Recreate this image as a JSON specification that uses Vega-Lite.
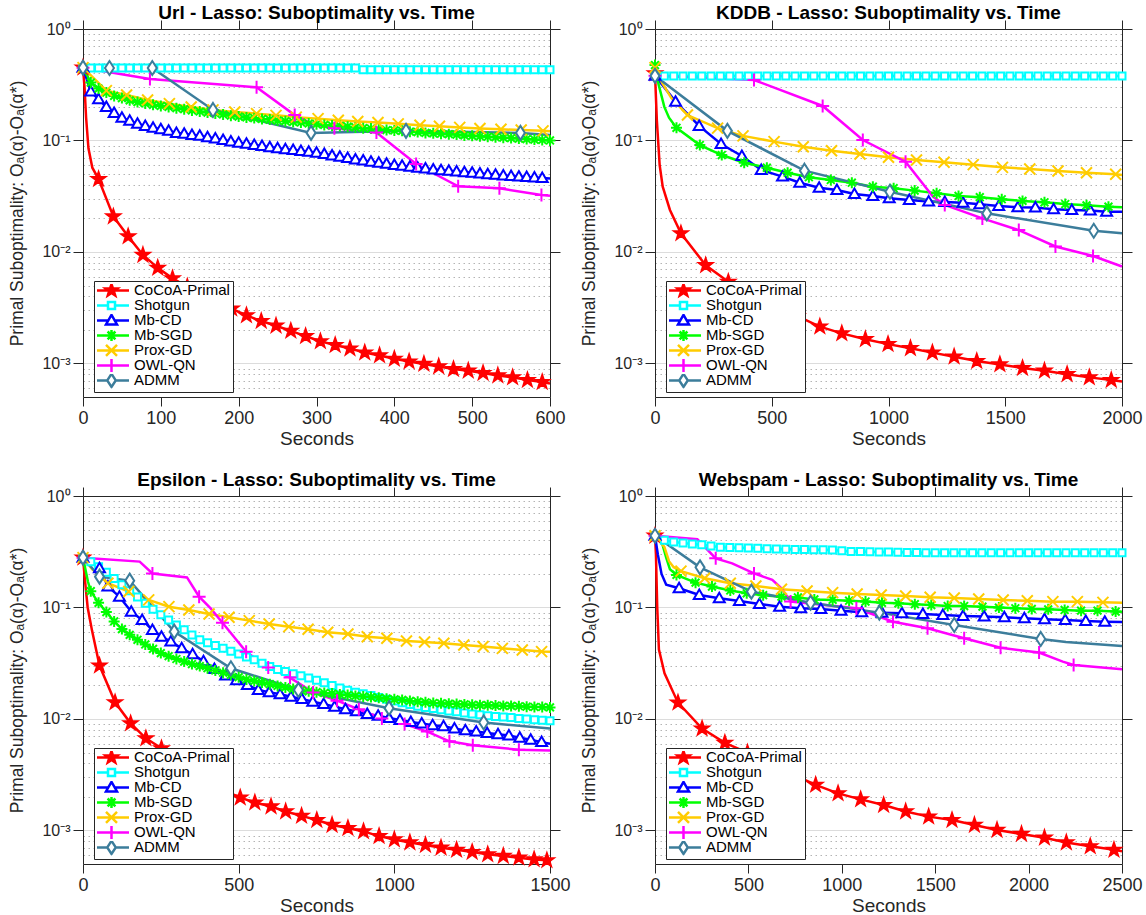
{
"$schema": "https://vega.github.io/schema/vega-lite/v6.json",
"padding": {"left": 8, "top": 4, "right": 5, "bottom": 3},
"background": "white",
"config": {
  "view": {"stroke": null},
  "font": "Liberation Sans",
  "axis": {"labelFont": "Liberation Sans", "titleFont": "Liberation Sans", "labelColor": "#262626", "titleColor": "#262626", "tickColor": "#262626", "domainColor": "#262626", "tickSize": 10, "titleFontWeight": "normal"},
  "title": {"font": "Liberation Sans", "fontSize": 19, "fontWeight": "bold", "color": "#000000", "baseline": "alphabetic", "offset": -3.5},
  "legend": {"padding": 3, "rowPadding": -1.8, "clipHeight": 12.8, "symbolOffset": 7, "labelOffset": 15, "labelFontSize": 15, "labelFont": "Liberation Sans", "labelColor": "#000000", "fillColor": "#ffffff", "strokeColor": "#262626", "symbolSize": 100, "symbolStrokeWidth": 2.5, "symbolOpacity": 1, "cornerRadius": 0}
},
"datasets": {
"url": [
{"s":"CoCoA-Primal","t":0,"v":0.45},{"s":"CoCoA-Primal","t":2,"v":0.3,"k":1},{"s":"CoCoA-Primal","t":4,"v":0.16,"k":1},{"s":"CoCoA-Primal","t":7,"v":0.085,"k":1},{"s":"CoCoA-Primal","t":12,"v":0.057,"k":1},
{"s":"CoCoA-Primal","t":20,"v":0.045},{"s":"CoCoA-Primal","t":39,"v":0.0208},{"s":"CoCoA-Primal","t":58,"v":0.0138},{"s":"CoCoA-Primal","t":77,"v":0.0094},{"s":"CoCoA-Primal","t":96,"v":0.0072},{"s":"CoCoA-Primal","t":115,"v":0.0058},{"s":"CoCoA-Primal","t":134,"v":0.0049},{"s":"CoCoA-Primal","t":153,"v":0.0042},{"s":"CoCoA-Primal","t":172,"v":0.0035},{"s":"CoCoA-Primal","t":191,"v":0.0031},{"s":"CoCoA-Primal","t":210,"v":0.0027},{"s":"CoCoA-Primal","t":229,"v":0.0024},{"s":"CoCoA-Primal","t":248,"v":0.00218},{"s":"CoCoA-Primal","t":267,"v":0.00196},{"s":"CoCoA-Primal","t":286,"v":0.00176},{"s":"CoCoA-Primal","t":305,"v":0.00158},{"s":"CoCoA-Primal","t":324,"v":0.00146},{"s":"CoCoA-Primal","t":343,"v":0.00136},{"s":"CoCoA-Primal","t":362,"v":0.00125},{"s":"CoCoA-Primal","t":381,"v":0.00118},{"s":"CoCoA-Primal","t":400,"v":0.0011},{"s":"CoCoA-Primal","t":419,"v":0.00104},{"s":"CoCoA-Primal","t":438,"v":0.00099},{"s":"CoCoA-Primal","t":457,"v":0.00094},{"s":"CoCoA-Primal","t":476,"v":0.00089},{"s":"CoCoA-Primal","t":495,"v":0.00086},{"s":"CoCoA-Primal","t":514,"v":0.00082},{"s":"CoCoA-Primal","t":533,"v":0.00078},{"s":"CoCoA-Primal","t":552,"v":0.00075},{"s":"CoCoA-Primal","t":571,"v":0.00071},{"s":"CoCoA-Primal","t":590,"v":0.00068},{"s":"CoCoA-Primal","t":600,"v":0.00066,"k":1},
{"s":"Shotgun","t":0,"v":0.45},{"s":"Shotgun","t":10,"v":0.447},{"s":"Shotgun","t":20,"v":0.447},{"s":"Shotgun","t":30,"v":0.447},{"s":"Shotgun","t":40,"v":0.447},{"s":"Shotgun","t":50,"v":0.447},{"s":"Shotgun","t":60,"v":0.447},{"s":"Shotgun","t":70,"v":0.447},{"s":"Shotgun","t":80,"v":0.447},{"s":"Shotgun","t":90,"v":0.447},{"s":"Shotgun","t":100,"v":0.447},{"s":"Shotgun","t":110,"v":0.447},{"s":"Shotgun","t":120,"v":0.447},{"s":"Shotgun","t":130,"v":0.447},{"s":"Shotgun","t":140,"v":0.447},{"s":"Shotgun","t":150,"v":0.447},{"s":"Shotgun","t":160,"v":0.447},{"s":"Shotgun","t":170,"v":0.447},{"s":"Shotgun","t":180,"v":0.447},{"s":"Shotgun","t":190,"v":0.447},{"s":"Shotgun","t":200,"v":0.447},{"s":"Shotgun","t":210,"v":0.447},{"s":"Shotgun","t":220,"v":0.447},{"s":"Shotgun","t":230,"v":0.447},{"s":"Shotgun","t":240,"v":0.447},{"s":"Shotgun","t":250,"v":0.447},{"s":"Shotgun","t":260,"v":0.447},{"s":"Shotgun","t":270,"v":0.447},{"s":"Shotgun","t":280,"v":0.447},{"s":"Shotgun","t":290,"v":0.447},{"s":"Shotgun","t":300,"v":0.447},{"s":"Shotgun","t":310,"v":0.447},{"s":"Shotgun","t":320,"v":0.447},{"s":"Shotgun","t":330,"v":0.447},{"s":"Shotgun","t":340,"v":0.447},{"s":"Shotgun","t":350,"v":0.447},{"s":"Shotgun","t":360,"v":0.432},{"s":"Shotgun","t":370,"v":0.432},{"s":"Shotgun","t":380,"v":0.432},{"s":"Shotgun","t":390,"v":0.432},{"s":"Shotgun","t":400,"v":0.432},{"s":"Shotgun","t":410,"v":0.432},{"s":"Shotgun","t":420,"v":0.432},{"s":"Shotgun","t":430,"v":0.432},{"s":"Shotgun","t":440,"v":0.432},{"s":"Shotgun","t":450,"v":0.432},{"s":"Shotgun","t":460,"v":0.432},{"s":"Shotgun","t":470,"v":0.432},{"s":"Shotgun","t":480,"v":0.432},{"s":"Shotgun","t":490,"v":0.432},{"s":"Shotgun","t":500,"v":0.432},{"s":"Shotgun","t":510,"v":0.432},{"s":"Shotgun","t":520,"v":0.432},{"s":"Shotgun","t":530,"v":0.432},{"s":"Shotgun","t":540,"v":0.432},{"s":"Shotgun","t":550,"v":0.432},{"s":"Shotgun","t":560,"v":0.432},{"s":"Shotgun","t":570,"v":0.432},{"s":"Shotgun","t":580,"v":0.432},{"s":"Shotgun","t":590,"v":0.432},{"s":"Shotgun","t":600,"v":0.432},
{"s":"Mb-CD","t":0,"v":0.45},{"s":"Mb-CD","t":10,"v":0.275},{"s":"Mb-CD","t":20,"v":0.234},{"s":"Mb-CD","t":30,"v":0.2},{"s":"Mb-CD","t":40,"v":0.176},{"s":"Mb-CD","t":50,"v":0.16},{"s":"Mb-CD","t":60,"v":0.15},{"s":"Mb-CD","t":70,"v":0.141},{"s":"Mb-CD","t":80,"v":0.135},{"s":"Mb-CD","t":90,"v":0.13},{"s":"Mb-CD","t":100,"v":0.126},{"s":"Mb-CD","t":110,"v":0.122},{"s":"Mb-CD","t":120,"v":0.117},{"s":"Mb-CD","t":130,"v":0.115},{"s":"Mb-CD","t":140,"v":0.112},{"s":"Mb-CD","t":150,"v":0.11},{"s":"Mb-CD","t":160,"v":0.107},{"s":"Mb-CD","t":170,"v":0.104},{"s":"Mb-CD","t":180,"v":0.101},{"s":"Mb-CD","t":190,"v":0.098},{"s":"Mb-CD","t":200,"v":0.0955},{"s":"Mb-CD","t":210,"v":0.0933},{"s":"Mb-CD","t":220,"v":0.0912},{"s":"Mb-CD","t":230,"v":0.0891},{"s":"Mb-CD","t":240,"v":0.0871},{"s":"Mb-CD","t":250,"v":0.0851},{"s":"Mb-CD","t":260,"v":0.0836},{"s":"Mb-CD","t":270,"v":0.082},{"s":"Mb-CD","t":280,"v":0.0805},{"s":"Mb-CD","t":290,"v":0.0791},{"s":"Mb-CD","t":300,"v":0.0776},{"s":"Mb-CD","t":310,"v":0.0755},{"s":"Mb-CD","t":320,"v":0.0735},{"s":"Mb-CD","t":330,"v":0.0714},{"s":"Mb-CD","t":340,"v":0.0695},{"s":"Mb-CD","t":350,"v":0.0676},{"s":"Mb-CD","t":360,"v":0.0661},{"s":"Mb-CD","t":370,"v":0.0646},{"s":"Mb-CD","t":380,"v":0.0631},{"s":"Mb-CD","t":390,"v":0.0617},{"s":"Mb-CD","t":400,"v":0.0603},{"s":"Mb-CD","t":410,"v":0.0592},{"s":"Mb-CD","t":420,"v":0.058},{"s":"Mb-CD","t":430,"v":0.057},{"s":"Mb-CD","t":440,"v":0.056},{"s":"Mb-CD","t":450,"v":0.055},{"s":"Mb-CD","t":460,"v":0.0542},{"s":"Mb-CD","t":470,"v":0.0535},{"s":"Mb-CD","t":480,"v":0.0527},{"s":"Mb-CD","t":490,"v":0.052},{"s":"Mb-CD","t":500,"v":0.0513},{"s":"Mb-CD","t":510,"v":0.0506},{"s":"Mb-CD","t":520,"v":0.0499},{"s":"Mb-CD","t":530,"v":0.0492},{"s":"Mb-CD","t":540,"v":0.0485},{"s":"Mb-CD","t":550,"v":0.0479},{"s":"Mb-CD","t":560,"v":0.0474},{"s":"Mb-CD","t":570,"v":0.047},{"s":"Mb-CD","t":580,"v":0.0466},{"s":"Mb-CD","t":590,"v":0.0461},{"s":"Mb-CD","t":600,"v":0.0457,"k":1},
{"s":"Mb-SGD","t":0,"v":0.45},{"s":"Mb-SGD","t":10,"v":0.331},{"s":"Mb-SGD","t":20,"v":0.292},{"s":"Mb-SGD","t":30,"v":0.269},{"s":"Mb-SGD","t":40,"v":0.251},{"s":"Mb-SGD","t":50,"v":0.24},{"s":"Mb-SGD","t":60,"v":0.229},{"s":"Mb-SGD","t":70,"v":0.221},{"s":"Mb-SGD","t":80,"v":0.215},{"s":"Mb-SGD","t":90,"v":0.209},{"s":"Mb-SGD","t":100,"v":0.204},{"s":"Mb-SGD","t":110,"v":0.2},{"s":"Mb-SGD","t":120,"v":0.195},{"s":"Mb-SGD","t":130,"v":0.191},{"s":"Mb-SGD","t":140,"v":0.186},{"s":"Mb-SGD","t":150,"v":0.182},{"s":"Mb-SGD","t":160,"v":0.178},{"s":"Mb-SGD","t":170,"v":0.175},{"s":"Mb-SGD","t":180,"v":0.171},{"s":"Mb-SGD","t":190,"v":0.167},{"s":"Mb-SGD","t":200,"v":0.164},{"s":"Mb-SGD","t":210,"v":0.161},{"s":"Mb-SGD","t":220,"v":0.159},{"s":"Mb-SGD","t":230,"v":0.156},{"s":"Mb-SGD","t":240,"v":0.154},{"s":"Mb-SGD","t":250,"v":0.151},{"s":"Mb-SGD","t":260,"v":0.149},{"s":"Mb-SGD","t":270,"v":0.147},{"s":"Mb-SGD","t":280,"v":0.145},{"s":"Mb-SGD","t":290,"v":0.142},{"s":"Mb-SGD","t":300,"v":0.14},{"s":"Mb-SGD","t":310,"v":0.138},{"s":"Mb-SGD","t":320,"v":0.136},{"s":"Mb-SGD","t":330,"v":0.135},{"s":"Mb-SGD","t":340,"v":0.133},{"s":"Mb-SGD","t":350,"v":0.131},{"s":"Mb-SGD","t":360,"v":0.129},{"s":"Mb-SGD","t":370,"v":0.128},{"s":"Mb-SGD","t":380,"v":0.126},{"s":"Mb-SGD","t":390,"v":0.124},{"s":"Mb-SGD","t":400,"v":0.123},{"s":"Mb-SGD","t":410,"v":0.122},{"s":"Mb-SGD","t":420,"v":0.12},{"s":"Mb-SGD","t":430,"v":0.119},{"s":"Mb-SGD","t":440,"v":0.117},{"s":"Mb-SGD","t":450,"v":0.116},{"s":"Mb-SGD","t":460,"v":0.115},{"s":"Mb-SGD","t":470,"v":0.114},{"s":"Mb-SGD","t":480,"v":0.113},{"s":"Mb-SGD","t":490,"v":0.111},{"s":"Mb-SGD","t":500,"v":0.11},{"s":"Mb-SGD","t":510,"v":0.109},{"s":"Mb-SGD","t":520,"v":0.108},{"s":"Mb-SGD","t":530,"v":0.107},{"s":"Mb-SGD","t":540,"v":0.106},{"s":"Mb-SGD","t":550,"v":0.105},{"s":"Mb-SGD","t":560,"v":0.104},{"s":"Mb-SGD","t":570,"v":0.103},{"s":"Mb-SGD","t":580,"v":0.102},{"s":"Mb-SGD","t":590,"v":0.101},{"s":"Mb-SGD","t":600,"v":0.1},
{"s":"Prox-GD","t":0,"v":0.45},{"s":"Prox-GD","t":30,"v":0.28},{"s":"Prox-GD","t":56,"v":0.256},{"s":"Prox-GD","t":83,"v":0.231},{"s":"Prox-GD","t":111,"v":0.214},{"s":"Prox-GD","t":139,"v":0.2},{"s":"Prox-GD","t":167,"v":0.188},{"s":"Prox-GD","t":195,"v":0.18},{"s":"Prox-GD","t":223,"v":0.174},{"s":"Prox-GD","t":248,"v":0.168},{"s":"Prox-GD","t":274,"v":0.162},{"s":"Prox-GD","t":302,"v":0.157},{"s":"Prox-GD","t":328,"v":0.152},{"s":"Prox-GD","t":353,"v":0.148},{"s":"Prox-GD","t":379,"v":0.145},{"s":"Prox-GD","t":405,"v":0.141},{"s":"Prox-GD","t":433,"v":0.137},{"s":"Prox-GD","t":458,"v":0.134},{"s":"Prox-GD","t":484,"v":0.131},{"s":"Prox-GD","t":510,"v":0.128},{"s":"Prox-GD","t":537,"v":0.126},{"s":"Prox-GD","t":563,"v":0.124},{"s":"Prox-GD","t":591,"v":0.122},{"s":"Prox-GD","t":600,"v":0.121,"k":1},
{"s":"OWL-QN","t":0,"v":0.45},{"s":"OWL-QN","t":86,"v":0.356},{"s":"OWL-QN","t":223,"v":0.3},{"s":"OWL-QN","t":272,"v":0.169},{"s":"OWL-QN","t":295,"v":0.14,"k":1},{"s":"OWL-QN","t":323,"v":0.129},{"s":"OWL-QN","t":377,"v":0.118},{"s":"OWL-QN","t":428,"v":0.0615},{"s":"OWL-QN","t":482,"v":0.0388},{"s":"OWL-QN","t":535,"v":0.0372},{"s":"OWL-QN","t":589,"v":0.0325},{"s":"OWL-QN","t":600,"v":0.032,"k":1},
{"s":"ADMM","t":0,"v":0.45},{"s":"ADMM","t":34,"v":0.447},{"s":"ADMM","t":89,"v":0.447},{"s":"ADMM","t":167,"v":0.188},{"s":"ADMM","t":293,"v":0.117},{"s":"ADMM","t":415,"v":0.122},{"s":"ADMM","t":562,"v":0.117},{"s":"ADMM","t":600,"v":0.112,"k":1}
],
"kddb": [
{"s":"CoCoA-Primal","t":0,"v":0.4},{"s":"CoCoA-Primal","t":8,"v":0.15,"k":1},{"s":"CoCoA-Primal","t":20,"v":0.06,"k":1},{"s":"CoCoA-Primal","t":33,"v":0.0385,"k":1},{"s":"CoCoA-Primal","t":64,"v":0.0238,"k":1},
{"s":"CoCoA-Primal","t":111,"v":0.0147},{"s":"CoCoA-Primal","t":217,"v":0.0076},{"s":"CoCoA-Primal","t":314,"v":0.0054},{"s":"CoCoA-Primal","t":410,"v":0.0043},{"s":"CoCoA-Primal","t":510,"v":0.0034},{"s":"CoCoA-Primal","t":610,"v":0.00266},{"s":"CoCoA-Primal","t":706,"v":0.00214},{"s":"CoCoA-Primal","t":800,"v":0.00186},{"s":"CoCoA-Primal","t":901,"v":0.00165},{"s":"CoCoA-Primal","t":998,"v":0.00149},{"s":"CoCoA-Primal","t":1094,"v":0.00137},{"s":"CoCoA-Primal","t":1188,"v":0.00125},{"s":"CoCoA-Primal","t":1281,"v":0.00115},{"s":"CoCoA-Primal","t":1378,"v":0.00105},{"s":"CoCoA-Primal","t":1477,"v":0.00098},{"s":"CoCoA-Primal","t":1574,"v":0.00091},{"s":"CoCoA-Primal","t":1668,"v":0.00086},{"s":"CoCoA-Primal","t":1765,"v":0.0008},{"s":"CoCoA-Primal","t":1860,"v":0.00075},{"s":"CoCoA-Primal","t":1954,"v":0.00071},{"s":"CoCoA-Primal","t":2000,"v":0.00069,"k":1},
{"s":"Shotgun","t":0,"v":0.38},{"s":"Shotgun","t":40,"v":0.379},{"s":"Shotgun","t":80,"v":0.379},{"s":"Shotgun","t":120,"v":0.379},{"s":"Shotgun","t":160,"v":0.379},{"s":"Shotgun","t":200,"v":0.379},{"s":"Shotgun","t":240,"v":0.379},{"s":"Shotgun","t":280,"v":0.379},{"s":"Shotgun","t":320,"v":0.379},{"s":"Shotgun","t":360,"v":0.379},{"s":"Shotgun","t":400,"v":0.379},{"s":"Shotgun","t":440,"v":0.379},{"s":"Shotgun","t":480,"v":0.379},{"s":"Shotgun","t":520,"v":0.379},{"s":"Shotgun","t":560,"v":0.379},{"s":"Shotgun","t":600,"v":0.379},{"s":"Shotgun","t":640,"v":0.379},{"s":"Shotgun","t":680,"v":0.379},{"s":"Shotgun","t":720,"v":0.379},{"s":"Shotgun","t":760,"v":0.379},{"s":"Shotgun","t":800,"v":0.379},{"s":"Shotgun","t":840,"v":0.379},{"s":"Shotgun","t":880,"v":0.379},{"s":"Shotgun","t":920,"v":0.379},{"s":"Shotgun","t":960,"v":0.379},{"s":"Shotgun","t":1000,"v":0.379},{"s":"Shotgun","t":1040,"v":0.379},{"s":"Shotgun","t":1080,"v":0.379},{"s":"Shotgun","t":1120,"v":0.379},{"s":"Shotgun","t":1160,"v":0.379},{"s":"Shotgun","t":1200,"v":0.379},{"s":"Shotgun","t":1240,"v":0.379},{"s":"Shotgun","t":1280,"v":0.379},{"s":"Shotgun","t":1320,"v":0.379},{"s":"Shotgun","t":1360,"v":0.379},{"s":"Shotgun","t":1400,"v":0.379},{"s":"Shotgun","t":1440,"v":0.379},{"s":"Shotgun","t":1480,"v":0.379},{"s":"Shotgun","t":1520,"v":0.379},{"s":"Shotgun","t":1560,"v":0.379},{"s":"Shotgun","t":1600,"v":0.379},{"s":"Shotgun","t":1640,"v":0.379},{"s":"Shotgun","t":1680,"v":0.379},{"s":"Shotgun","t":1720,"v":0.379},{"s":"Shotgun","t":1760,"v":0.379},{"s":"Shotgun","t":1800,"v":0.379},{"s":"Shotgun","t":1840,"v":0.379},{"s":"Shotgun","t":1880,"v":0.379},{"s":"Shotgun","t":1920,"v":0.379},{"s":"Shotgun","t":1960,"v":0.379},{"s":"Shotgun","t":2000,"v":0.379},
{"s":"Mb-CD","t":0,"v":0.38},{"s":"Mb-CD","t":88,"v":0.223},{"s":"Mb-CD","t":189,"v":0.135},{"s":"Mb-CD","t":283,"v":0.093},{"s":"Mb-CD","t":372,"v":0.0726},{"s":"Mb-CD","t":455,"v":0.0544},{"s":"Mb-CD","t":546,"v":0.0474},{"s":"Mb-CD","t":620,"v":0.0418},{"s":"Mb-CD","t":703,"v":0.0377},{"s":"Mb-CD","t":779,"v":0.036},{"s":"Mb-CD","t":854,"v":0.0331},{"s":"Mb-CD","t":933,"v":0.0318},{"s":"Mb-CD","t":1003,"v":0.0303},{"s":"Mb-CD","t":1089,"v":0.0292},{"s":"Mb-CD","t":1172,"v":0.0283},{"s":"Mb-CD","t":1241,"v":0.028},{"s":"Mb-CD","t":1319,"v":0.0277},{"s":"Mb-CD","t":1391,"v":0.0268},{"s":"Mb-CD","t":1472,"v":0.0259},{"s":"Mb-CD","t":1554,"v":0.0252},{"s":"Mb-CD","t":1629,"v":0.025},{"s":"Mb-CD","t":1707,"v":0.0242},{"s":"Mb-CD","t":1785,"v":0.0238},{"s":"Mb-CD","t":1864,"v":0.0235},{"s":"Mb-CD","t":1934,"v":0.023},{"s":"Mb-CD","t":2000,"v":0.023,"k":1},
{"s":"Mb-SGD","t":0,"v":0.475},{"s":"Mb-SGD","t":15,"v":0.32,"k":1},{"s":"Mb-SGD","t":40,"v":0.2,"k":1},{"s":"Mb-SGD","t":60,"v":0.16,"k":1},{"s":"Mb-SGD","t":92,"v":0.13},{"s":"Mb-SGD","t":192,"v":0.091},{"s":"Mb-SGD","t":286,"v":0.074},{"s":"Mb-SGD","t":382,"v":0.0632},{"s":"Mb-SGD","t":479,"v":0.057},{"s":"Mb-SGD","t":568,"v":0.0514},{"s":"Mb-SGD","t":659,"v":0.0468},{"s":"Mb-SGD","t":753,"v":0.0442},{"s":"Mb-SGD","t":843,"v":0.0418},{"s":"Mb-SGD","t":933,"v":0.0385},{"s":"Mb-SGD","t":1022,"v":0.0373},{"s":"Mb-SGD","t":1112,"v":0.0355},{"s":"Mb-SGD","t":1206,"v":0.0336},{"s":"Mb-SGD","t":1300,"v":0.0318},{"s":"Mb-SGD","t":1391,"v":0.031},{"s":"Mb-SGD","t":1485,"v":0.0297},{"s":"Mb-SGD","t":1574,"v":0.0287},{"s":"Mb-SGD","t":1668,"v":0.0279},{"s":"Mb-SGD","t":1757,"v":0.0269},{"s":"Mb-SGD","t":1848,"v":0.0262},{"s":"Mb-SGD","t":1942,"v":0.0255},{"s":"Mb-SGD","t":2000,"v":0.0252,"k":1},
{"s":"Prox-GD","t":0,"v":0.45},{"s":"Prox-GD","t":30,"v":0.33,"k":1},{"s":"Prox-GD","t":70,"v":0.24,"k":1},{"s":"Prox-GD","t":139,"v":0.169},{"s":"Prox-GD","t":268,"v":0.129},{"s":"Prox-GD","t":377,"v":0.11},{"s":"Prox-GD","t":510,"v":0.0977},{"s":"Prox-GD","t":635,"v":0.088},{"s":"Prox-GD","t":756,"v":0.081},{"s":"Prox-GD","t":878,"v":0.0757},{"s":"Prox-GD","t":1000,"v":0.0707},{"s":"Prox-GD","t":1120,"v":0.0669},{"s":"Prox-GD","t":1238,"v":0.0637},{"s":"Prox-GD","t":1363,"v":0.0607},{"s":"Prox-GD","t":1488,"v":0.0574},{"s":"Prox-GD","t":1605,"v":0.0555},{"s":"Prox-GD","t":1726,"v":0.0533},{"s":"Prox-GD","t":1848,"v":0.0514},{"s":"Prox-GD","t":1973,"v":0.0497},{"s":"Prox-GD","t":2000,"v":0.049,"k":1},
{"s":"OWL-QN","t":0,"v":0.38},{"s":"OWL-QN","t":424,"v":0.349},{"s":"OWL-QN","t":718,"v":0.204},{"s":"OWL-QN","t":890,"v":0.101},{"s":"OWL-QN","t":1073,"v":0.0645},{"s":"OWL-QN","t":1191,"v":0.0313,"k":1},{"s":"OWL-QN","t":1241,"v":0.0264},{"s":"OWL-QN","t":1402,"v":0.02},{"s":"OWL-QN","t":1558,"v":0.0157},{"s":"OWL-QN","t":1715,"v":0.0112},{"s":"OWL-QN","t":1876,"v":0.0092},{"s":"OWL-QN","t":2000,"v":0.0074,"k":1},
{"s":"ADMM","t":0,"v":0.38},{"s":"ADMM","t":310,"v":0.122},{"s":"ADMM","t":640,"v":0.0536},{"s":"ADMM","t":1006,"v":0.0347},{"s":"ADMM","t":1421,"v":0.0222},{"s":"ADMM","t":1879,"v":0.0155},{"s":"ADMM","t":2000,"v":0.0147,"k":1}
],
"eps": [
{"s":"CoCoA-Primal","t":0,"v":0.28},{"s":"CoCoA-Primal","t":6,"v":0.18,"k":1},{"s":"CoCoA-Primal","t":15,"v":0.1,"k":1},{"s":"CoCoA-Primal","t":29,"v":0.062,"k":1},
{"s":"CoCoA-Primal","t":53,"v":0.0301},{"s":"CoCoA-Primal","t":103,"v":0.0141},{"s":"CoCoA-Primal","t":153,"v":0.00914},{"s":"CoCoA-Primal","t":202,"v":0.0067},{"s":"CoCoA-Primal","t":252,"v":0.00546},{"s":"CoCoA-Primal","t":302,"v":0.0043},{"s":"CoCoA-Primal","t":352,"v":0.0034},{"s":"CoCoA-Primal","t":402,"v":0.00275},{"s":"CoCoA-Primal","t":452,"v":0.0023},{"s":"CoCoA-Primal","t":505,"v":0.00197},{"s":"CoCoA-Primal","t":552,"v":0.00178},{"s":"CoCoA-Primal","t":604,"v":0.00164},{"s":"CoCoA-Primal","t":651,"v":0.00148},{"s":"CoCoA-Primal","t":702,"v":0.00135},{"s":"CoCoA-Primal","t":751,"v":0.00124},{"s":"CoCoA-Primal","t":800,"v":0.00112},{"s":"CoCoA-Primal","t":851,"v":0.00105},{"s":"CoCoA-Primal","t":901,"v":0.00098},{"s":"CoCoA-Primal","t":951,"v":0.00089},{"s":"CoCoA-Primal","t":1000,"v":0.00083},{"s":"CoCoA-Primal","t":1050,"v":0.00078},{"s":"CoCoA-Primal","t":1100,"v":0.00074},{"s":"CoCoA-Primal","t":1150,"v":0.0007},{"s":"CoCoA-Primal","t":1200,"v":0.00067},{"s":"CoCoA-Primal","t":1250,"v":0.00064},{"s":"CoCoA-Primal","t":1300,"v":0.00061},{"s":"CoCoA-Primal","t":1350,"v":0.00059},{"s":"CoCoA-Primal","t":1400,"v":0.00057},{"s":"CoCoA-Primal","t":1449,"v":0.00055},{"s":"CoCoA-Primal","t":1490,"v":0.00054},{"s":"CoCoA-Primal","t":1500,"v":0.00054,"k":1},
{"s":"Shotgun","t":0,"v":0.28},{"s":"Shotgun","t":25,"v":0.257},{"s":"Shotgun","t":50,"v":0.232},{"s":"Shotgun","t":75,"v":0.207},{"s":"Shotgun","t":100,"v":0.182},{"s":"Shotgun","t":125,"v":0.16},{"s":"Shotgun","t":150,"v":0.141},{"s":"Shotgun","t":175,"v":0.124},{"s":"Shotgun","t":200,"v":0.109},{"s":"Shotgun","t":225,"v":0.0966},{"s":"Shotgun","t":250,"v":0.0859},{"s":"Shotgun","t":275,"v":0.0773},{"s":"Shotgun","t":300,"v":0.0697},{"s":"Shotgun","t":325,"v":0.0631},{"s":"Shotgun","t":350,"v":0.0566},{"s":"Shotgun","t":375,"v":0.0513},{"s":"Shotgun","t":400,"v":0.0483},{"s":"Shotgun","t":425,"v":0.0455},{"s":"Shotgun","t":450,"v":0.043},{"s":"Shotgun","t":475,"v":0.0405},{"s":"Shotgun","t":500,"v":0.0382},{"s":"Shotgun","t":525,"v":0.036},{"s":"Shotgun","t":550,"v":0.0339},{"s":"Shotgun","t":575,"v":0.0316},{"s":"Shotgun","t":600,"v":0.0296},{"s":"Shotgun","t":625,"v":0.0278},{"s":"Shotgun","t":650,"v":0.0266},{"s":"Shotgun","t":675,"v":0.0255},{"s":"Shotgun","t":700,"v":0.0244},{"s":"Shotgun","t":725,"v":0.0233},{"s":"Shotgun","t":750,"v":0.0222},{"s":"Shotgun","t":775,"v":0.0211},{"s":"Shotgun","t":800,"v":0.02},{"s":"Shotgun","t":825,"v":0.019},{"s":"Shotgun","t":850,"v":0.0181},{"s":"Shotgun","t":875,"v":0.0174},{"s":"Shotgun","t":900,"v":0.0168},{"s":"Shotgun","t":925,"v":0.0162},{"s":"Shotgun","t":950,"v":0.0156},{"s":"Shotgun","t":975,"v":0.015},{"s":"Shotgun","t":1000,"v":0.0145},{"s":"Shotgun","t":1025,"v":0.014},{"s":"Shotgun","t":1050,"v":0.0135},{"s":"Shotgun","t":1075,"v":0.013},{"s":"Shotgun","t":1100,"v":0.0127},{"s":"Shotgun","t":1125,"v":0.0124},{"s":"Shotgun","t":1150,"v":0.0121},{"s":"Shotgun","t":1175,"v":0.0118},{"s":"Shotgun","t":1200,"v":0.0116},{"s":"Shotgun","t":1225,"v":0.0113},{"s":"Shotgun","t":1250,"v":0.0111},{"s":"Shotgun","t":1275,"v":0.0109},{"s":"Shotgun","t":1300,"v":0.0107},{"s":"Shotgun","t":1325,"v":0.0105},{"s":"Shotgun","t":1350,"v":0.0104},{"s":"Shotgun","t":1375,"v":0.0103},{"s":"Shotgun","t":1400,"v":0.0101},{"s":"Shotgun","t":1425,"v":0.01},{"s":"Shotgun","t":1450,"v":0.00986},{"s":"Shotgun","t":1475,"v":0.00975},{"s":"Shotgun","t":1500,"v":0.00964},
{"s":"Mb-CD","t":0,"v":0.28},{"s":"Mb-CD","t":53,"v":0.225},{"s":"Mb-CD","t":80,"v":0.154},{"s":"Mb-CD","t":117,"v":0.125},{"s":"Mb-CD","t":155,"v":0.0917},{"s":"Mb-CD","t":190,"v":0.0773},{"s":"Mb-CD","t":223,"v":0.0628},{"s":"Mb-CD","t":252,"v":0.0547},{"s":"Mb-CD","t":282,"v":0.0494},{"s":"Mb-CD","t":317,"v":0.043},{"s":"Mb-CD","t":352,"v":0.038},{"s":"Mb-CD","t":387,"v":0.033},{"s":"Mb-CD","t":422,"v":0.028},{"s":"Mb-CD","t":458,"v":0.0245},{"s":"Mb-CD","t":493,"v":0.0222},{"s":"Mb-CD","t":528,"v":0.0202},{"s":"Mb-CD","t":563,"v":0.0182},{"s":"Mb-CD","t":598,"v":0.0174},{"s":"Mb-CD","t":633,"v":0.0167},{"s":"Mb-CD","t":668,"v":0.0158},{"s":"Mb-CD","t":703,"v":0.0151},{"s":"Mb-CD","t":738,"v":0.0143},{"s":"Mb-CD","t":773,"v":0.0136},{"s":"Mb-CD","t":808,"v":0.0129},{"s":"Mb-CD","t":843,"v":0.0122},{"s":"Mb-CD","t":878,"v":0.0117},{"s":"Mb-CD","t":913,"v":0.0111},{"s":"Mb-CD","t":948,"v":0.0107},{"s":"Mb-CD","t":983,"v":0.0102},{"s":"Mb-CD","t":1018,"v":0.0098},{"s":"Mb-CD","t":1053,"v":0.0094},{"s":"Mb-CD","t":1088,"v":0.0091},{"s":"Mb-CD","t":1123,"v":0.0088},{"s":"Mb-CD","t":1158,"v":0.0086},{"s":"Mb-CD","t":1193,"v":0.0082},{"s":"Mb-CD","t":1228,"v":0.0079},{"s":"Mb-CD","t":1263,"v":0.0077},{"s":"Mb-CD","t":1298,"v":0.0075},{"s":"Mb-CD","t":1333,"v":0.0073},{"s":"Mb-CD","t":1368,"v":0.0071},{"s":"Mb-CD","t":1403,"v":0.0068},{"s":"Mb-CD","t":1438,"v":0.0065},{"s":"Mb-CD","t":1473,"v":0.0062},{"s":"Mb-CD","t":1500,"v":0.006,"k":1},
{"s":"Mb-SGD","t":0,"v":0.28},{"s":"Mb-SGD","t":16,"v":0.17,"k":1},{"s":"Mb-SGD","t":25,"v":0.14},{"s":"Mb-SGD","t":50,"v":0.11},{"s":"Mb-SGD","t":75,"v":0.091},{"s":"Mb-SGD","t":100,"v":0.075},{"s":"Mb-SGD","t":125,"v":0.064},{"s":"Mb-SGD","t":150,"v":0.0568},{"s":"Mb-SGD","t":175,"v":0.0513},{"s":"Mb-SGD","t":200,"v":0.0466},{"s":"Mb-SGD","t":225,"v":0.0425},{"s":"Mb-SGD","t":250,"v":0.039},{"s":"Mb-SGD","t":275,"v":0.0366},{"s":"Mb-SGD","t":300,"v":0.0345},{"s":"Mb-SGD","t":325,"v":0.0327},{"s":"Mb-SGD","t":350,"v":0.0311},{"s":"Mb-SGD","t":375,"v":0.0298},{"s":"Mb-SGD","t":400,"v":0.0285},{"s":"Mb-SGD","t":425,"v":0.0272},{"s":"Mb-SGD","t":450,"v":0.026},{"s":"Mb-SGD","t":475,"v":0.0249},{"s":"Mb-SGD","t":500,"v":0.0237},{"s":"Mb-SGD","t":525,"v":0.0226},{"s":"Mb-SGD","t":550,"v":0.0219},{"s":"Mb-SGD","t":575,"v":0.0212},{"s":"Mb-SGD","t":600,"v":0.0205},{"s":"Mb-SGD","t":625,"v":0.0198},{"s":"Mb-SGD","t":650,"v":0.0192},{"s":"Mb-SGD","t":675,"v":0.0186},{"s":"Mb-SGD","t":700,"v":0.0181},{"s":"Mb-SGD","t":725,"v":0.0177},{"s":"Mb-SGD","t":750,"v":0.0174},{"s":"Mb-SGD","t":775,"v":0.0171},{"s":"Mb-SGD","t":800,"v":0.0169},{"s":"Mb-SGD","t":825,"v":0.0166},{"s":"Mb-SGD","t":850,"v":0.0164},{"s":"Mb-SGD","t":875,"v":0.0161},{"s":"Mb-SGD","t":900,"v":0.0159},{"s":"Mb-SGD","t":925,"v":0.0157},{"s":"Mb-SGD","t":950,"v":0.0155},{"s":"Mb-SGD","t":975,"v":0.0152},{"s":"Mb-SGD","t":1000,"v":0.015},{"s":"Mb-SGD","t":1025,"v":0.0148},{"s":"Mb-SGD","t":1050,"v":0.0145},{"s":"Mb-SGD","t":1075,"v":0.0143},{"s":"Mb-SGD","t":1100,"v":0.0141},{"s":"Mb-SGD","t":1125,"v":0.0139},{"s":"Mb-SGD","t":1150,"v":0.0138},{"s":"Mb-SGD","t":1175,"v":0.0137},{"s":"Mb-SGD","t":1200,"v":0.0136},{"s":"Mb-SGD","t":1225,"v":0.0135},{"s":"Mb-SGD","t":1250,"v":0.0134},{"s":"Mb-SGD","t":1275,"v":0.0133},{"s":"Mb-SGD","t":1300,"v":0.0133},{"s":"Mb-SGD","t":1325,"v":0.0132},{"s":"Mb-SGD","t":1350,"v":0.0131},{"s":"Mb-SGD","t":1375,"v":0.0131},{"s":"Mb-SGD","t":1400,"v":0.013},{"s":"Mb-SGD","t":1425,"v":0.0129},{"s":"Mb-SGD","t":1450,"v":0.0128},{"s":"Mb-SGD","t":1475,"v":0.0128},{"s":"Mb-SGD","t":1500,"v":0.0127},
{"s":"Prox-GD","t":0,"v":0.28},{"s":"Prox-GD","t":30,"v":0.22,"k":1},{"s":"Prox-GD","t":80,"v":0.165},{"s":"Prox-GD","t":147,"v":0.139},{"s":"Prox-GD","t":211,"v":0.117},{"s":"Prox-GD","t":276,"v":0.1017},{"s":"Prox-GD","t":340,"v":0.095},{"s":"Prox-GD","t":405,"v":0.0874},{"s":"Prox-GD","t":469,"v":0.0816},{"s":"Prox-GD","t":534,"v":0.0762},{"s":"Prox-GD","t":598,"v":0.0711},{"s":"Prox-GD","t":661,"v":0.0673},{"s":"Prox-GD","t":723,"v":0.0637},{"s":"Prox-GD","t":786,"v":0.0599},{"s":"Prox-GD","t":851,"v":0.0578},{"s":"Prox-GD","t":913,"v":0.0547},{"s":"Prox-GD","t":976,"v":0.0529},{"s":"Prox-GD","t":1039,"v":0.0501},{"s":"Prox-GD","t":1097,"v":0.0491},{"s":"Prox-GD","t":1159,"v":0.0477},{"s":"Prox-GD","t":1223,"v":0.0461},{"s":"Prox-GD","t":1285,"v":0.0446},{"s":"Prox-GD","t":1347,"v":0.043},{"s":"Prox-GD","t":1411,"v":0.0416},{"s":"Prox-GD","t":1473,"v":0.0402},{"s":"Prox-GD","t":1500,"v":0.04,"k":1},
{"s":"OWL-QN","t":0,"v":0.28},{"s":"OWL-QN","t":182,"v":0.258,"k":1},{"s":"OWL-QN","t":223,"v":0.202},{"s":"OWL-QN","t":334,"v":0.186,"k":1},{"s":"OWL-QN","t":373,"v":0.125},{"s":"OWL-QN","t":410,"v":0.098,"k":1},{"s":"OWL-QN","t":448,"v":0.073},{"s":"OWL-QN","t":524,"v":0.04},{"s":"OWL-QN","t":595,"v":0.029},{"s":"OWL-QN","t":665,"v":0.0235},{"s":"OWL-QN","t":739,"v":0.0173},{"s":"OWL-QN","t":816,"v":0.0146},{"s":"OWL-QN","t":886,"v":0.0122},{"s":"OWL-QN","t":960,"v":0.0101},{"s":"OWL-QN","t":1033,"v":0.009},{"s":"OWL-QN","t":1106,"v":0.0077},{"s":"OWL-QN","t":1177,"v":0.0063},{"s":"OWL-QN","t":1252,"v":0.0058},{"s":"OWL-QN","t":1400,"v":0.0053},{"s":"OWL-QN","t":1500,"v":0.0052,"k":1},
{"s":"ADMM","t":0,"v":0.28},{"s":"ADMM","t":53,"v":0.189},{"s":"ADMM","t":150,"v":0.174},{"s":"ADMM","t":293,"v":0.0607},{"s":"ADMM","t":475,"v":0.0285},{"s":"ADMM","t":692,"v":0.0182},{"s":"ADMM","t":983,"v":0.0125},{"s":"ADMM","t":1287,"v":0.0093},{"s":"ADMM","t":1500,"v":0.0082,"k":1}
],
"web": [
{"s":"CoCoA-Primal","t":0,"v":0.44},{"s":"CoCoA-Primal","t":5,"v":0.3,"k":1},{"s":"CoCoA-Primal","t":12,"v":0.1,"k":1},{"s":"CoCoA-Primal","t":21,"v":0.042,"k":1},{"s":"CoCoA-Primal","t":51,"v":0.0257,"k":1},
{"s":"CoCoA-Primal","t":123,"v":0.014},{"s":"CoCoA-Primal","t":252,"v":0.0082},{"s":"CoCoA-Primal","t":374,"v":0.0061},{"s":"CoCoA-Primal","t":495,"v":0.005},{"s":"CoCoA-Primal","t":615,"v":0.004},{"s":"CoCoA-Primal","t":735,"v":0.0032},{"s":"CoCoA-Primal","t":860,"v":0.00256},{"s":"CoCoA-Primal","t":980,"v":0.00215},{"s":"CoCoA-Primal","t":1101,"v":0.0019},{"s":"CoCoA-Primal","t":1224,"v":0.00169},{"s":"CoCoA-Primal","t":1342,"v":0.00148},{"s":"CoCoA-Primal","t":1465,"v":0.00133},{"s":"CoCoA-Primal","t":1590,"v":0.00124},{"s":"CoCoA-Primal","t":1710,"v":0.00112},{"s":"CoCoA-Primal","t":1831,"v":0.00101},{"s":"CoCoA-Primal","t":1962,"v":0.00093},{"s":"CoCoA-Primal","t":2085,"v":0.00086},{"s":"CoCoA-Primal","t":2202,"v":0.00078},{"s":"CoCoA-Primal","t":2330,"v":0.00072},{"s":"CoCoA-Primal","t":2457,"v":0.00067},{"s":"CoCoA-Primal","t":2500,"v":0.00065,"k":1},
{"s":"Shotgun","t":0,"v":0.44},{"s":"Shotgun","t":50,"v":0.4},{"s":"Shotgun","t":100,"v":0.387},{"s":"Shotgun","t":150,"v":0.379},{"s":"Shotgun","t":200,"v":0.371},{"s":"Shotgun","t":250,"v":0.366},{"s":"Shotgun","t":300,"v":0.356},{"s":"Shotgun","t":350,"v":0.347},{"s":"Shotgun","t":400,"v":0.345},{"s":"Shotgun","t":450,"v":0.343},{"s":"Shotgun","t":500,"v":0.341},{"s":"Shotgun","t":550,"v":0.339},{"s":"Shotgun","t":600,"v":0.337},{"s":"Shotgun","t":650,"v":0.335},{"s":"Shotgun","t":700,"v":0.333},{"s":"Shotgun","t":750,"v":0.332},{"s":"Shotgun","t":800,"v":0.331},{"s":"Shotgun","t":850,"v":0.33},{"s":"Shotgun","t":900,"v":0.329},{"s":"Shotgun","t":950,"v":0.327},{"s":"Shotgun","t":1000,"v":0.322},{"s":"Shotgun","t":1050,"v":0.318},{"s":"Shotgun","t":1100,"v":0.317},{"s":"Shotgun","t":1150,"v":0.316},{"s":"Shotgun","t":1200,"v":0.315},{"s":"Shotgun","t":1250,"v":0.314},{"s":"Shotgun","t":1300,"v":0.313},{"s":"Shotgun","t":1350,"v":0.312},{"s":"Shotgun","t":1400,"v":0.311},{"s":"Shotgun","t":1450,"v":0.31},{"s":"Shotgun","t":1500,"v":0.31},{"s":"Shotgun","t":1550,"v":0.31},{"s":"Shotgun","t":1600,"v":0.31},{"s":"Shotgun","t":1650,"v":0.31},{"s":"Shotgun","t":1700,"v":0.31},{"s":"Shotgun","t":1750,"v":0.31},{"s":"Shotgun","t":1800,"v":0.31},{"s":"Shotgun","t":1850,"v":0.31},{"s":"Shotgun","t":1900,"v":0.31},{"s":"Shotgun","t":1950,"v":0.31},{"s":"Shotgun","t":2000,"v":0.31},{"s":"Shotgun","t":2050,"v":0.31},{"s":"Shotgun","t":2100,"v":0.31},{"s":"Shotgun","t":2150,"v":0.31},{"s":"Shotgun","t":2200,"v":0.31},{"s":"Shotgun","t":2250,"v":0.31},{"s":"Shotgun","t":2300,"v":0.31},{"s":"Shotgun","t":2350,"v":0.31},{"s":"Shotgun","t":2400,"v":0.31},{"s":"Shotgun","t":2450,"v":0.31},{"s":"Shotgun","t":2500,"v":0.31},
{"s":"Mb-CD","t":0,"v":0.44},{"s":"Mb-CD","t":15,"v":0.3,"k":1},{"s":"Mb-CD","t":35,"v":0.2,"k":1},{"s":"Mb-CD","t":60,"v":0.16,"k":1},{"s":"Mb-CD","t":129,"v":0.1486},{"s":"Mb-CD","t":237,"v":0.1294},{"s":"Mb-CD","t":344,"v":0.1208},{"s":"Mb-CD","t":452,"v":0.1144},{"s":"Mb-CD","t":559,"v":0.1075},{"s":"Mb-CD","t":667,"v":0.1017},{"s":"Mb-CD","t":780,"v":0.0984},{"s":"Mb-CD","t":888,"v":0.097},{"s":"Mb-CD","t":996,"v":0.0937},{"s":"Mb-CD","t":1107,"v":0.0905},{"s":"Mb-CD","t":1215,"v":0.0899},{"s":"Mb-CD","t":1322,"v":0.0887},{"s":"Mb-CD","t":1434,"v":0.0874},{"s":"Mb-CD","t":1541,"v":0.0857},{"s":"Mb-CD","t":1649,"v":0.0839},{"s":"Mb-CD","t":1762,"v":0.0828},{"s":"Mb-CD","t":1870,"v":0.0816},{"s":"Mb-CD","t":1977,"v":0.0799},{"s":"Mb-CD","t":2085,"v":0.0783},{"s":"Mb-CD","t":2196,"v":0.0773},{"s":"Mb-CD","t":2306,"v":0.0757},{"s":"Mb-CD","t":2408,"v":0.0746},{"s":"Mb-CD","t":2500,"v":0.074,"k":1},
{"s":"Mb-SGD","t":0,"v":0.44},{"s":"Mb-SGD","t":30,"v":0.42,"k":1},{"s":"Mb-SGD","t":60,"v":0.28,"k":1},{"s":"Mb-SGD","t":80,"v":0.22,"k":1},{"s":"Mb-SGD","t":115,"v":0.196},{"s":"Mb-SGD","t":217,"v":0.167},{"s":"Mb-SGD","t":305,"v":0.154},{"s":"Mb-SGD","t":403,"v":0.142},{"s":"Mb-SGD","t":491,"v":0.134},{"s":"Mb-SGD","t":579,"v":0.129},{"s":"Mb-SGD","t":677,"v":0.125},{"s":"Mb-SGD","t":765,"v":0.123},{"s":"Mb-SGD","t":853,"v":0.118},{"s":"Mb-SGD","t":951,"v":0.117},{"s":"Mb-SGD","t":1039,"v":0.115},{"s":"Mb-SGD","t":1127,"v":0.113},{"s":"Mb-SGD","t":1215,"v":0.11},{"s":"Mb-SGD","t":1303,"v":0.109},{"s":"Mb-SGD","t":1391,"v":0.107},{"s":"Mb-SGD","t":1479,"v":0.105},{"s":"Mb-SGD","t":1567,"v":0.103},{"s":"Mb-SGD","t":1655,"v":0.103},{"s":"Mb-SGD","t":1753,"v":0.1017},{"s":"Mb-SGD","t":1841,"v":0.0998},{"s":"Mb-SGD","t":1929,"v":0.0984},{"s":"Mb-SGD","t":2017,"v":0.097},{"s":"Mb-SGD","t":2105,"v":0.0962},{"s":"Mb-SGD","t":2193,"v":0.095},{"s":"Mb-SGD","t":2281,"v":0.0937},{"s":"Mb-SGD","t":2369,"v":0.0937},{"s":"Mb-SGD","t":2466,"v":0.0918},{"s":"Mb-SGD","t":2500,"v":0.0915,"k":1},
{"s":"Prox-GD","t":0,"v":0.44},{"s":"Prox-GD","t":50,"v":0.35,"k":1},{"s":"Prox-GD","t":75,"v":0.26,"k":1},{"s":"Prox-GD","t":100,"v":0.23,"k":1},{"s":"Prox-GD","t":139,"v":0.212},{"s":"Prox-GD","t":266,"v":0.183},{"s":"Prox-GD","t":403,"v":0.165},{"s":"Prox-GD","t":540,"v":0.156},{"s":"Prox-GD","t":677,"v":0.1455},{"s":"Prox-GD","t":814,"v":0.1406},{"s":"Prox-GD","t":951,"v":0.1358},{"s":"Prox-GD","t":1082,"v":0.132},{"s":"Prox-GD","t":1211,"v":0.1294},{"s":"Prox-GD","t":1342,"v":0.1268},{"s":"Prox-GD","t":1473,"v":0.1234},{"s":"Prox-GD","t":1602,"v":0.1216},{"s":"Prox-GD","t":1733,"v":0.1192},{"s":"Prox-GD","t":1864,"v":0.1167},{"s":"Prox-GD","t":1993,"v":0.115},{"s":"Prox-GD","t":2130,"v":0.1128},{"s":"Prox-GD","t":2261,"v":0.1128},{"s":"Prox-GD","t":2398,"v":0.1112},{"s":"Prox-GD","t":2500,"v":0.1104,"k":1},
{"s":"OWL-QN","t":0,"v":0.44},{"s":"OWL-QN","t":227,"v":0.409,"k":1},{"s":"OWL-QN","t":325,"v":0.276},{"s":"OWL-QN","t":413,"v":0.249,"k":1},{"s":"OWL-QN","t":530,"v":0.202},{"s":"OWL-QN","t":628,"v":0.177,"k":1},{"s":"OWL-QN","t":677,"v":0.1486,"k":1},{"s":"OWL-QN","t":726,"v":0.113},{"s":"OWL-QN","t":1078,"v":0.0984},{"s":"OWL-QN","t":1274,"v":0.0746},{"s":"OWL-QN","t":1459,"v":0.065},{"s":"OWL-QN","t":1655,"v":0.0529},{"s":"OWL-QN","t":1850,"v":0.0436},{"s":"OWL-QN","t":2056,"v":0.0394},{"s":"OWL-QN","t":2183,"v":0.0327,"k":1},{"s":"OWL-QN","t":2241,"v":0.0305},{"s":"OWL-QN","t":2500,"v":0.0279,"k":1},
{"s":"ADMM","t":0,"v":0.44},{"s":"ADMM","t":241,"v":0.229},{"s":"ADMM","t":516,"v":0.1387},{"s":"ADMM","t":833,"v":0.1104},{"s":"ADMM","t":1201,"v":0.0899},{"s":"ADMM","t":1602,"v":0.0697},{"s":"ADMM","t":2065,"v":0.0522},{"s":"ADMM","t":2200,"v":0.049,"k":1},{"s":"ADMM","t":2500,"v":0.0451,"k":1}
]
},
"columns": 2,
"spacing": {"row": 99, "column": 105},
"bounds": "flush",
"resolve": {"scale": {"shape": "independent", "stroke": "independent", "fill": "independent"}},
"concat": [
{
 "width": 467, "height": 368,
 "data": {"name": "url"},
 "title": {"text": "Url - Lasso: Suboptimality vs. Time"},
 "layer": [
  {
   "transform": [{"filter": "false"}],
   "mark": {"type": "point", "opacity": 1, "strokeWidth": 2.5, "size": 100},
   "encoding": {
    "x": {"field": "t", "type": "quantitative", "scale": {"domain": [0, 600], "nice": false}, "axis": null},
    "y": {"field": "v", "type": "quantitative", "scale": {"type": "log", "domain": [0.0005, 1], "nice": false}, "axis": {"orient": "left", "values": [0.0006,0.0007,0.0008,0.0009,0.002,0.003,0.004,0.005,0.006,0.007,0.008,0.009,0.02,0.03,0.04,0.05,0.06,0.07,0.08,0.09,0.2,0.3,0.4,0.5,0.6,0.7,0.8,0.9], "grid": true, "gridDash": [1.5, 3.5], "gridColor": "#b4b4b4", "ticks": false, "labels": false, "domain": false, "title": null}},
    "shape": {"field": "s", "type": "nominal", "scale": {"domain": ["CoCoA-Primal","Shotgun","Mb-CD","Mb-SGD","Prox-GD","OWL-QN","ADMM"], "range": ["M0,-1.25L0.288,-0.397L1.189,-0.386L0.467,0.152L0.735,1.011L0,0.491L-0.735,1.011L-0.467,0.152L-1.189,-0.386L-0.288,-0.397ZM-3.5,0H3.5", "M-0.7,-0.7H0.7V0.7H-0.7ZM-3.5,0H-0.7M0.7,0H3.5", "M0,-1.1L1.1,0.8H-1.1ZM-3.5,0H-0.64M0.64,0H3.5", "M-1.1,0H1.1M0,-1.1V1.1M-0.78,-0.78L0.78,0.78M-0.78,0.78L0.78,-0.78M-3.5,0H3.5", "M-1.1,-1.1L1.1,1.1M-1.1,1.1L1.1,-1.1M-3.5,0H3.5", "M-1.3,0H1.3M0,-1.3V1.3M-3.5,0H3.5", "M0,-1.3L0.85,0L0,1.3L-0.85,0ZM-3.5,0H-0.85M0.85,0H3.5"]}, "legend": {"orient": "none", "legendX": 11, "legendY": 252, "title": null}},
    "stroke": {"field": "s", "type": "nominal", "scale": {"domain": ["CoCoA-Primal","Shotgun","Mb-CD","Mb-SGD","Prox-GD","OWL-QN","ADMM"], "range": ["#ff0000","#00ffff","#0000ff","#00ff00","#ffcc00","#ff00ff","#3c7d9b"]}, "legend": {"orient": "none", "legendX": 11, "legendY": 252, "title": null}},
    "fill": {"field": "s", "type": "nominal", "scale": {"domain": ["CoCoA-Primal","Shotgun","Mb-CD","Mb-SGD","Prox-GD","OWL-QN","ADMM"], "range": ["#ff0000","#ffffff","#ffffff","#ffffff","#ffffff","#ffffff","#ffffff"]}, "legend": {"orient": "none", "legendX": 11, "legendY": 252, "title": null}}
   }
  },
  {
   "mark": {"type": "line", "strokeWidth": 2.5},
   "encoding": {
    "x": {"field": "t", "type": "quantitative", "scale": {"domain": [0, 600], "nice": false}, "axis": {"orient": "bottom", "values": [0,100,200,300,400,500,600], "format": "d", "title": "Seconds", "titleFontSize": 19, "titlePadding": 2, "labelFontSize": 18, "labelPadding": 3, "tickSize": 9, "grid": false, "labelFlush": false}},
    "y": {"field": "v", "type": "quantitative", "scale": {"type": "log", "domain": [0.0005, 1], "nice": false}, "axis": {"orient": "left", "values": [1, 0.1, 0.01, 0.001], "labelExpr": "datum.value > 0.5 ? '10⁰' : datum.value > 0.05 ? '10⁻¹' : datum.value > 0.005 ? '10⁻²' : '10⁻³'", "labelFontSize": 16, "labelPadding": 3, "grid": true, "gridColor": "#dcdcdc", "title": "Primal Suboptimality: Oₐ(α)-Oₐ(α*)", "titleFontSize": 17.5, "titlePadding": 15}},
    "stroke": {"field": "s", "type": "nominal", "scale": {"domain": ["CoCoA-Primal","Shotgun","Mb-CD","Mb-SGD","Prox-GD","OWL-QN","ADMM"], "range": ["#ff0000","#00ffff","#0000ff","#00ff00","#ffcc00","#ff00ff","#3c7d9b"]}, "legend": null}
   }
  },
  {
   "transform": [{"filter": "!datum.k"}],
   "mark": {"type": "point", "opacity": 1, "strokeWidth": 2, "size": 100},
   "encoding": {
    "x": {"field": "t", "type": "quantitative", "scale": {"domain": [0, 600], "nice": false}, "axis": {"orient": "top", "values": [0,100,200,300,400,500,600], "labels": false, "title": null, "grid": false, "tickSize": 9}},
    "y": {"field": "v", "type": "quantitative", "scale": {"type": "log", "domain": [0.0005, 1], "nice": false}, "axis": {"orient": "right", "values": [1, 0.1, 0.01, 0.001], "labels": false, "title": null, "grid": false}},
    "shape": {"field": "s", "type": "nominal", "scale": {"domain": ["CoCoA-Primal","Shotgun","Mb-CD","Mb-SGD","Prox-GD","OWL-QN","ADMM"], "range": ["M0,-1.4L0.323,-0.445L1.331,-0.433L0.523,0.17L0.823,1.133L0,0.55L-0.823,1.133L-0.523,0.17L-1.331,-0.433L-0.323,-0.445Z", "M-0.7,-0.7H0.7V0.7H-0.7Z", "M0,-1.1L1.1,0.8H-1.1Z", "M-1.1,0H1.1M0,-1.1V1.1M-0.78,-0.78L0.78,0.78M-0.78,0.78L0.78,-0.78", "M-1.1,-1.1L1.1,1.1M-1.1,1.1L1.1,-1.1", "M-1.3,0H1.3M0,-1.3V1.3", "M0,-1.4L0.9,0L0,1.4L-0.9,0Z"]}, "legend": null},
    "stroke": {"field": "s", "type": "nominal", "scale": {"domain": ["CoCoA-Primal","Shotgun","Mb-CD","Mb-SGD","Prox-GD","OWL-QN","ADMM"], "range": ["#ff0000","#00ffff","#0000ff","#00ff00","#ffcc00","#ff00ff","#3c7d9b"]}, "legend": null},
    "fill": {"field": "s", "type": "nominal", "scale": {"domain": ["CoCoA-Primal","Shotgun","Mb-CD","Mb-SGD","Prox-GD","OWL-QN","ADMM"], "range": ["#ff0000","#ffffff","#ffffff","#ffffff","#ffffff","#ffffff","#ffffff"]}, "legend": null}
   }
  }
 ],
 "resolve": {"scale": {"shape": "independent", "stroke": "independent", "fill": "independent"}, "axis": {"x": "independent", "y": "independent"}}
},
{
 "width": 467, "height": 368,
 "data": {"name": "kddb"},
 "title": {"text": "KDDB - Lasso: Suboptimality vs. Time"},
 "layer": [
  {
   "transform": [{"filter": "false"}],
   "mark": {"type": "point", "opacity": 1, "strokeWidth": 2.5, "size": 100},
   "encoding": {
    "x": {"field": "t", "type": "quantitative", "scale": {"domain": [0, 2000], "nice": false}, "axis": null},
    "y": {"field": "v", "type": "quantitative", "scale": {"type": "log", "domain": [0.0005, 1], "nice": false}, "axis": {"orient": "left", "values": [0.0006,0.0007,0.0008,0.0009,0.002,0.003,0.004,0.005,0.006,0.007,0.008,0.009,0.02,0.03,0.04,0.05,0.06,0.07,0.08,0.09,0.2,0.3,0.4,0.5,0.6,0.7,0.8,0.9], "grid": true, "gridDash": [1.5, 3.5], "gridColor": "#b4b4b4", "ticks": false, "labels": false, "domain": false, "title": null}},
    "shape": {"field": "s", "type": "nominal", "scale": {"domain": ["CoCoA-Primal","Shotgun","Mb-CD","Mb-SGD","Prox-GD","OWL-QN","ADMM"], "range": ["M0,-1.25L0.288,-0.397L1.189,-0.386L0.467,0.152L0.735,1.011L0,0.491L-0.735,1.011L-0.467,0.152L-1.189,-0.386L-0.288,-0.397ZM-3.5,0H3.5", "M-0.7,-0.7H0.7V0.7H-0.7ZM-3.5,0H-0.7M0.7,0H3.5", "M0,-1.1L1.1,0.8H-1.1ZM-3.5,0H-0.64M0.64,0H3.5", "M-1.1,0H1.1M0,-1.1V1.1M-0.78,-0.78L0.78,0.78M-0.78,0.78L0.78,-0.78M-3.5,0H3.5", "M-1.1,-1.1L1.1,1.1M-1.1,1.1L1.1,-1.1M-3.5,0H3.5", "M-1.3,0H1.3M0,-1.3V1.3M-3.5,0H3.5", "M0,-1.3L0.85,0L0,1.3L-0.85,0ZM-3.5,0H-0.85M0.85,0H3.5"]}, "legend": {"orient": "none", "legendX": 11, "legendY": 252, "title": null}},
    "stroke": {"field": "s", "type": "nominal", "scale": {"domain": ["CoCoA-Primal","Shotgun","Mb-CD","Mb-SGD","Prox-GD","OWL-QN","ADMM"], "range": ["#ff0000","#00ffff","#0000ff","#00ff00","#ffcc00","#ff00ff","#3c7d9b"]}, "legend": {"orient": "none", "legendX": 11, "legendY": 252, "title": null}},
    "fill": {"field": "s", "type": "nominal", "scale": {"domain": ["CoCoA-Primal","Shotgun","Mb-CD","Mb-SGD","Prox-GD","OWL-QN","ADMM"], "range": ["#ff0000","#ffffff","#ffffff","#ffffff","#ffffff","#ffffff","#ffffff"]}, "legend": {"orient": "none", "legendX": 11, "legendY": 252, "title": null}}
   }
  },
  {
   "mark": {"type": "line", "strokeWidth": 2.5},
   "encoding": {
    "x": {"field": "t", "type": "quantitative", "scale": {"domain": [0, 2000], "nice": false}, "axis": {"orient": "bottom", "values": [0,500,1000,1500,2000], "format": "d", "title": "Seconds", "titleFontSize": 19, "titlePadding": 2, "labelFontSize": 18, "labelPadding": 3, "tickSize": 9, "grid": false, "labelFlush": false}},
    "y": {"field": "v", "type": "quantitative", "scale": {"type": "log", "domain": [0.0005, 1], "nice": false}, "axis": {"orient": "left", "values": [1, 0.1, 0.01, 0.001], "labelExpr": "datum.value > 0.5 ? '10⁰' : datum.value > 0.05 ? '10⁻¹' : datum.value > 0.005 ? '10⁻²' : '10⁻³'", "labelFontSize": 16, "labelPadding": 3, "grid": true, "gridColor": "#dcdcdc", "title": "Primal Suboptimality: Oₐ(α)-Oₐ(α*)", "titleFontSize": 17.5, "titlePadding": 15}},
    "stroke": {"field": "s", "type": "nominal", "scale": {"domain": ["CoCoA-Primal","Shotgun","Mb-CD","Mb-SGD","Prox-GD","OWL-QN","ADMM"], "range": ["#ff0000","#00ffff","#0000ff","#00ff00","#ffcc00","#ff00ff","#3c7d9b"]}, "legend": null}
   }
  },
  {
   "transform": [{"filter": "!datum.k"}],
   "mark": {"type": "point", "opacity": 1, "strokeWidth": 2, "size": 100},
   "encoding": {
    "x": {"field": "t", "type": "quantitative", "scale": {"domain": [0, 2000], "nice": false}, "axis": {"orient": "top", "values": [0,500,1000,1500,2000], "labels": false, "title": null, "grid": false, "tickSize": 9}},
    "y": {"field": "v", "type": "quantitative", "scale": {"type": "log", "domain": [0.0005, 1], "nice": false}, "axis": {"orient": "right", "values": [1, 0.1, 0.01, 0.001], "labels": false, "title": null, "grid": false}},
    "shape": {"field": "s", "type": "nominal", "scale": {"domain": ["CoCoA-Primal","Shotgun","Mb-CD","Mb-SGD","Prox-GD","OWL-QN","ADMM"], "range": ["M0,-1.4L0.323,-0.445L1.331,-0.433L0.523,0.17L0.823,1.133L0,0.55L-0.823,1.133L-0.523,0.17L-1.331,-0.433L-0.323,-0.445Z", "M-0.7,-0.7H0.7V0.7H-0.7Z", "M0,-1.1L1.1,0.8H-1.1Z", "M-1.1,0H1.1M0,-1.1V1.1M-0.78,-0.78L0.78,0.78M-0.78,0.78L0.78,-0.78", "M-1.1,-1.1L1.1,1.1M-1.1,1.1L1.1,-1.1", "M-1.3,0H1.3M0,-1.3V1.3", "M0,-1.4L0.9,0L0,1.4L-0.9,0Z"]}, "legend": null},
    "stroke": {"field": "s", "type": "nominal", "scale": {"domain": ["CoCoA-Primal","Shotgun","Mb-CD","Mb-SGD","Prox-GD","OWL-QN","ADMM"], "range": ["#ff0000","#00ffff","#0000ff","#00ff00","#ffcc00","#ff00ff","#3c7d9b"]}, "legend": null},
    "fill": {"field": "s", "type": "nominal", "scale": {"domain": ["CoCoA-Primal","Shotgun","Mb-CD","Mb-SGD","Prox-GD","OWL-QN","ADMM"], "range": ["#ff0000","#ffffff","#ffffff","#ffffff","#ffffff","#ffffff","#ffffff"]}, "legend": null}
   }
  }
 ],
 "resolve": {"scale": {"shape": "independent", "stroke": "independent", "fill": "independent"}, "axis": {"x": "independent", "y": "independent"}}
},
{
 "width": 467, "height": 368,
 "data": {"name": "eps"},
 "title": {"text": "Epsilon - Lasso: Suboptimality vs. Time"},
 "layer": [
  {
   "transform": [{"filter": "false"}],
   "mark": {"type": "point", "opacity": 1, "strokeWidth": 2.5, "size": 100},
   "encoding": {
    "x": {"field": "t", "type": "quantitative", "scale": {"domain": [0, 1500], "nice": false}, "axis": null},
    "y": {"field": "v", "type": "quantitative", "scale": {"type": "log", "domain": [0.0005, 1], "nice": false}, "axis": {"orient": "left", "values": [0.0006,0.0007,0.0008,0.0009,0.002,0.003,0.004,0.005,0.006,0.007,0.008,0.009,0.02,0.03,0.04,0.05,0.06,0.07,0.08,0.09,0.2,0.3,0.4,0.5,0.6,0.7,0.8,0.9], "grid": true, "gridDash": [1.5, 3.5], "gridColor": "#b4b4b4", "ticks": false, "labels": false, "domain": false, "title": null}},
    "shape": {"field": "s", "type": "nominal", "scale": {"domain": ["CoCoA-Primal","Shotgun","Mb-CD","Mb-SGD","Prox-GD","OWL-QN","ADMM"], "range": ["M0,-1.25L0.288,-0.397L1.189,-0.386L0.467,0.152L0.735,1.011L0,0.491L-0.735,1.011L-0.467,0.152L-1.189,-0.386L-0.288,-0.397ZM-3.5,0H3.5", "M-0.7,-0.7H0.7V0.7H-0.7ZM-3.5,0H-0.7M0.7,0H3.5", "M0,-1.1L1.1,0.8H-1.1ZM-3.5,0H-0.64M0.64,0H3.5", "M-1.1,0H1.1M0,-1.1V1.1M-0.78,-0.78L0.78,0.78M-0.78,0.78L0.78,-0.78M-3.5,0H3.5", "M-1.1,-1.1L1.1,1.1M-1.1,1.1L1.1,-1.1M-3.5,0H3.5", "M-1.3,0H1.3M0,-1.3V1.3M-3.5,0H3.5", "M0,-1.3L0.85,0L0,1.3L-0.85,0ZM-3.5,0H-0.85M0.85,0H3.5"]}, "legend": {"orient": "none", "legendX": 11, "legendY": 252, "title": null}},
    "stroke": {"field": "s", "type": "nominal", "scale": {"domain": ["CoCoA-Primal","Shotgun","Mb-CD","Mb-SGD","Prox-GD","OWL-QN","ADMM"], "range": ["#ff0000","#00ffff","#0000ff","#00ff00","#ffcc00","#ff00ff","#3c7d9b"]}, "legend": {"orient": "none", "legendX": 11, "legendY": 252, "title": null}},
    "fill": {"field": "s", "type": "nominal", "scale": {"domain": ["CoCoA-Primal","Shotgun","Mb-CD","Mb-SGD","Prox-GD","OWL-QN","ADMM"], "range": ["#ff0000","#ffffff","#ffffff","#ffffff","#ffffff","#ffffff","#ffffff"]}, "legend": {"orient": "none", "legendX": 11, "legendY": 252, "title": null}}
   }
  },
  {
   "mark": {"type": "line", "strokeWidth": 2.5},
   "encoding": {
    "x": {"field": "t", "type": "quantitative", "scale": {"domain": [0, 1500], "nice": false}, "axis": {"orient": "bottom", "values": [0,500,1000,1500], "format": "d", "title": "Seconds", "titleFontSize": 19, "titlePadding": 2, "labelFontSize": 18, "labelPadding": 3, "tickSize": 9, "grid": false, "labelFlush": false}},
    "y": {"field": "v", "type": "quantitative", "scale": {"type": "log", "domain": [0.0005, 1], "nice": false}, "axis": {"orient": "left", "values": [1, 0.1, 0.01, 0.001], "labelExpr": "datum.value > 0.5 ? '10⁰' : datum.value > 0.05 ? '10⁻¹' : datum.value > 0.005 ? '10⁻²' : '10⁻³'", "labelFontSize": 16, "labelPadding": 3, "grid": true, "gridColor": "#dcdcdc", "title": "Primal Suboptimality: Oₐ(α)-Oₐ(α*)", "titleFontSize": 17.5, "titlePadding": 15}},
    "stroke": {"field": "s", "type": "nominal", "scale": {"domain": ["CoCoA-Primal","Shotgun","Mb-CD","Mb-SGD","Prox-GD","OWL-QN","ADMM"], "range": ["#ff0000","#00ffff","#0000ff","#00ff00","#ffcc00","#ff00ff","#3c7d9b"]}, "legend": null}
   }
  },
  {
   "transform": [{"filter": "!datum.k"}],
   "mark": {"type": "point", "opacity": 1, "strokeWidth": 2, "size": 100},
   "encoding": {
    "x": {"field": "t", "type": "quantitative", "scale": {"domain": [0, 1500], "nice": false}, "axis": {"orient": "top", "values": [0,500,1000,1500], "labels": false, "title": null, "grid": false, "tickSize": 9}},
    "y": {"field": "v", "type": "quantitative", "scale": {"type": "log", "domain": [0.0005, 1], "nice": false}, "axis": {"orient": "right", "values": [1, 0.1, 0.01, 0.001], "labels": false, "title": null, "grid": false}},
    "shape": {"field": "s", "type": "nominal", "scale": {"domain": ["CoCoA-Primal","Shotgun","Mb-CD","Mb-SGD","Prox-GD","OWL-QN","ADMM"], "range": ["M0,-1.4L0.323,-0.445L1.331,-0.433L0.523,0.17L0.823,1.133L0,0.55L-0.823,1.133L-0.523,0.17L-1.331,-0.433L-0.323,-0.445Z", "M-0.7,-0.7H0.7V0.7H-0.7Z", "M0,-1.1L1.1,0.8H-1.1Z", "M-1.1,0H1.1M0,-1.1V1.1M-0.78,-0.78L0.78,0.78M-0.78,0.78L0.78,-0.78", "M-1.1,-1.1L1.1,1.1M-1.1,1.1L1.1,-1.1", "M-1.3,0H1.3M0,-1.3V1.3", "M0,-1.4L0.9,0L0,1.4L-0.9,0Z"]}, "legend": null},
    "stroke": {"field": "s", "type": "nominal", "scale": {"domain": ["CoCoA-Primal","Shotgun","Mb-CD","Mb-SGD","Prox-GD","OWL-QN","ADMM"], "range": ["#ff0000","#00ffff","#0000ff","#00ff00","#ffcc00","#ff00ff","#3c7d9b"]}, "legend": null},
    "fill": {"field": "s", "type": "nominal", "scale": {"domain": ["CoCoA-Primal","Shotgun","Mb-CD","Mb-SGD","Prox-GD","OWL-QN","ADMM"], "range": ["#ff0000","#ffffff","#ffffff","#ffffff","#ffffff","#ffffff","#ffffff"]}, "legend": null}
   }
  }
 ],
 "resolve": {"scale": {"shape": "independent", "stroke": "independent", "fill": "independent"}, "axis": {"x": "independent", "y": "independent"}}
},
{
 "width": 467, "height": 368,
 "data": {"name": "web"},
 "title": {"text": "Webspam - Lasso: Suboptimality vs. Time"},
 "layer": [
  {
   "transform": [{"filter": "false"}],
   "mark": {"type": "point", "opacity": 1, "strokeWidth": 2.5, "size": 100},
   "encoding": {
    "x": {"field": "t", "type": "quantitative", "scale": {"domain": [0, 2500], "nice": false}, "axis": null},
    "y": {"field": "v", "type": "quantitative", "scale": {"type": "log", "domain": [0.0005, 1], "nice": false}, "axis": {"orient": "left", "values": [0.0006,0.0007,0.0008,0.0009,0.002,0.003,0.004,0.005,0.006,0.007,0.008,0.009,0.02,0.03,0.04,0.05,0.06,0.07,0.08,0.09,0.2,0.3,0.4,0.5,0.6,0.7,0.8,0.9], "grid": true, "gridDash": [1.5, 3.5], "gridColor": "#b4b4b4", "ticks": false, "labels": false, "domain": false, "title": null}},
    "shape": {"field": "s", "type": "nominal", "scale": {"domain": ["CoCoA-Primal","Shotgun","Mb-CD","Mb-SGD","Prox-GD","OWL-QN","ADMM"], "range": ["M0,-1.25L0.288,-0.397L1.189,-0.386L0.467,0.152L0.735,1.011L0,0.491L-0.735,1.011L-0.467,0.152L-1.189,-0.386L-0.288,-0.397ZM-3.5,0H3.5", "M-0.7,-0.7H0.7V0.7H-0.7ZM-3.5,0H-0.7M0.7,0H3.5", "M0,-1.1L1.1,0.8H-1.1ZM-3.5,0H-0.64M0.64,0H3.5", "M-1.1,0H1.1M0,-1.1V1.1M-0.78,-0.78L0.78,0.78M-0.78,0.78L0.78,-0.78M-3.5,0H3.5", "M-1.1,-1.1L1.1,1.1M-1.1,1.1L1.1,-1.1M-3.5,0H3.5", "M-1.3,0H1.3M0,-1.3V1.3M-3.5,0H3.5", "M0,-1.3L0.85,0L0,1.3L-0.85,0ZM-3.5,0H-0.85M0.85,0H3.5"]}, "legend": {"orient": "none", "legendX": 11, "legendY": 252, "title": null}},
    "stroke": {"field": "s", "type": "nominal", "scale": {"domain": ["CoCoA-Primal","Shotgun","Mb-CD","Mb-SGD","Prox-GD","OWL-QN","ADMM"], "range": ["#ff0000","#00ffff","#0000ff","#00ff00","#ffcc00","#ff00ff","#3c7d9b"]}, "legend": {"orient": "none", "legendX": 11, "legendY": 252, "title": null}},
    "fill": {"field": "s", "type": "nominal", "scale": {"domain": ["CoCoA-Primal","Shotgun","Mb-CD","Mb-SGD","Prox-GD","OWL-QN","ADMM"], "range": ["#ff0000","#ffffff","#ffffff","#ffffff","#ffffff","#ffffff","#ffffff"]}, "legend": {"orient": "none", "legendX": 11, "legendY": 252, "title": null}}
   }
  },
  {
   "mark": {"type": "line", "strokeWidth": 2.5},
   "encoding": {
    "x": {"field": "t", "type": "quantitative", "scale": {"domain": [0, 2500], "nice": false}, "axis": {"orient": "bottom", "values": [0,500,1000,1500,2000,2500], "format": "d", "title": "Seconds", "titleFontSize": 19, "titlePadding": 2, "labelFontSize": 18, "labelPadding": 3, "tickSize": 9, "grid": false, "labelFlush": false}},
    "y": {"field": "v", "type": "quantitative", "scale": {"type": "log", "domain": [0.0005, 1], "nice": false}, "axis": {"orient": "left", "values": [1, 0.1, 0.01, 0.001], "labelExpr": "datum.value > 0.5 ? '10⁰' : datum.value > 0.05 ? '10⁻¹' : datum.value > 0.005 ? '10⁻²' : '10⁻³'", "labelFontSize": 16, "labelPadding": 3, "grid": true, "gridColor": "#dcdcdc", "title": "Primal Suboptimality: Oₐ(α)-Oₐ(α*)", "titleFontSize": 17.5, "titlePadding": 15}},
    "stroke": {"field": "s", "type": "nominal", "scale": {"domain": ["CoCoA-Primal","Shotgun","Mb-CD","Mb-SGD","Prox-GD","OWL-QN","ADMM"], "range": ["#ff0000","#00ffff","#0000ff","#00ff00","#ffcc00","#ff00ff","#3c7d9b"]}, "legend": null}
   }
  },
  {
   "transform": [{"filter": "!datum.k"}],
   "mark": {"type": "point", "opacity": 1, "strokeWidth": 2, "size": 100},
   "encoding": {
    "x": {"field": "t", "type": "quantitative", "scale": {"domain": [0, 2500], "nice": false}, "axis": {"orient": "top", "values": [0,500,1000,1500,2000,2500], "labels": false, "title": null, "grid": false, "tickSize": 9}},
    "y": {"field": "v", "type": "quantitative", "scale": {"type": "log", "domain": [0.0005, 1], "nice": false}, "axis": {"orient": "right", "values": [1, 0.1, 0.01, 0.001], "labels": false, "title": null, "grid": false}},
    "shape": {"field": "s", "type": "nominal", "scale": {"domain": ["CoCoA-Primal","Shotgun","Mb-CD","Mb-SGD","Prox-GD","OWL-QN","ADMM"], "range": ["M0,-1.4L0.323,-0.445L1.331,-0.433L0.523,0.17L0.823,1.133L0,0.55L-0.823,1.133L-0.523,0.17L-1.331,-0.433L-0.323,-0.445Z", "M-0.7,-0.7H0.7V0.7H-0.7Z", "M0,-1.1L1.1,0.8H-1.1Z", "M-1.1,0H1.1M0,-1.1V1.1M-0.78,-0.78L0.78,0.78M-0.78,0.78L0.78,-0.78", "M-1.1,-1.1L1.1,1.1M-1.1,1.1L1.1,-1.1", "M-1.3,0H1.3M0,-1.3V1.3", "M0,-1.4L0.9,0L0,1.4L-0.9,0Z"]}, "legend": null},
    "stroke": {"field": "s", "type": "nominal", "scale": {"domain": ["CoCoA-Primal","Shotgun","Mb-CD","Mb-SGD","Prox-GD","OWL-QN","ADMM"], "range": ["#ff0000","#00ffff","#0000ff","#00ff00","#ffcc00","#ff00ff","#3c7d9b"]}, "legend": null},
    "fill": {"field": "s", "type": "nominal", "scale": {"domain": ["CoCoA-Primal","Shotgun","Mb-CD","Mb-SGD","Prox-GD","OWL-QN","ADMM"], "range": ["#ff0000","#ffffff","#ffffff","#ffffff","#ffffff","#ffffff","#ffffff"]}, "legend": null}
   }
  }
 ],
 "resolve": {"scale": {"shape": "independent", "stroke": "independent", "fill": "independent"}, "axis": {"x": "independent", "y": "independent"}}
}
]
}
